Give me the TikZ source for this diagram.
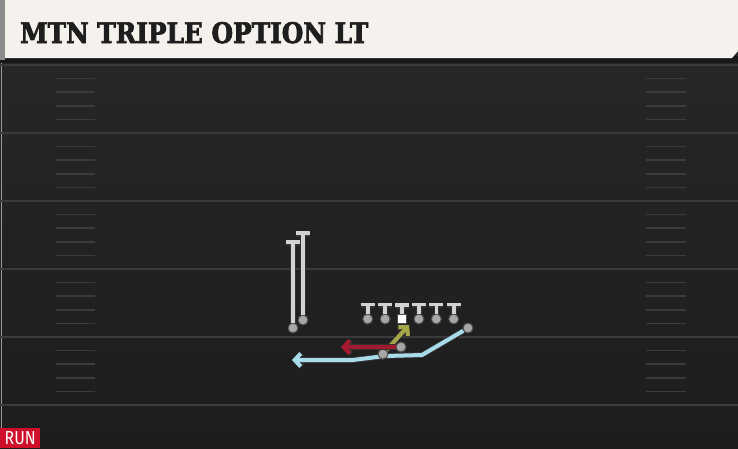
\documentclass[tikz,border=0pt]{standalone}
\usepackage{fontspec}
\usetikzlibrary{arrows.meta,positioning}
\newfontfamily\titlefont{DejaVu Serif Condensed Bold}[FakeBold=2.5]
\newfontfamily\runfont{Fira Sans}
\definecolor{fieldtop}{HTML}{282828}
\definecolor{fieldbot}{HTML}{1D1D1D}
\definecolor{fieldline}{HTML}{3B3B3B}
\definecolor{titlebg}{HTML}{F5F2EE}
\definecolor{titletext}{HTML}{1E1E1E}
\definecolor{runred}{HTML}{D0102B}
\definecolor{optred}{HTML}{A4192D}
\definecolor{optblue}{HTML}{A9DCEB}
\definecolor{optyellow}{HTML}{A8A64A}
\definecolor{playergray}{HTML}{A6A6A6}
\definecolor{blockgray}{HTML}{D2D2D2}

\begin{document}
\begin{tikzpicture}[x=1pt,y=-1pt,
  player/.style={circle, fill=playergray, draw=black!70, line width=1pt, inner sep=0pt, minimum size=10pt},
  snapper/.style={rectangle, fill=white, draw=black!70, line width=1pt, inner sep=0pt, minimum size=9pt},
  block/.style={draw=blockgray, line width=3.6pt, preaction={draw=black!80, line width=5.6pt}, -{Bar[width=14pt]}},
  option/.style={line width=4pt, preaction={draw=black!80, line width=5.8pt}, -{Straight Barb[length=6pt,width=13pt]}},
  hash/.style={draw=fieldline, line width=1.6pt},
]
\useasboundingbox (0,0) rectangle (738,448);
% field
\shade[top color=fieldtop, bottom color=fieldbot] (0,0) rectangle (738,448);
\draw[black!40, line width=1pt] (1.5,60) -- (1.5,448);
\foreach \k in {0,...,5}
  \draw[fieldline, line width=1.8pt] (0,{65+68*\k}) -- (738,{65+68*\k});
\foreach \k in {0,...,4}
  \foreach \h in {1,...,4} {
    \draw[hash] (56,{65+68*\k+13.6*\h}) -- (95,{65+68*\k+13.6*\h});
    \draw[hash] (646,{65+68*\k+13.6*\h}) -- (686,{65+68*\k+13.6*\h});
  }

% title bar
\fill[black!90] (0,56) rectangle (738,63);
\fill[black!45] (0,0) rectangle (5,60);
\fill[titlebg] (5,0) -- (738,0) -- (738,51) -- (732,58) -- (5,58) -- cycle;
\node[anchor=base west, inner sep=0pt, text=titletext] (title) at (20,43)
  {\resizebox{348pt}{21pt}{\titlefont MTN TRIPLE OPTION LT}};

% tag
\node[fill=runred, anchor=south west, minimum width=40pt, minimum height=20pt, inner sep=0pt, text=white] (tag) at (0,448)
  {\resizebox{31pt}{13pt}{\runfont RUN}};

% line
\node[snapper] (c) at (402,319) {};
\node[player, left=6.4pt of c] (lg) {};
\node[player, left=6.4pt of lg] (lt) {};
\node[player, right=6.4pt of c] (rg) {};
\node[player, right=6.4pt of rg] (rt) {};
\node[player, right=6.4pt of rt] (te) {};
\foreach \p in {lt,lg,c,rg,rt,te}
  \draw[block] (\p.north) -- ++(0,-11);

% receivers
\node[player] (wr) at (293,328) {};
\node[player] (sl) at (303,320) {};
\coordinate (wrend) at (293,240);
\coordinate (slend) at (303,231);
\draw[block] (wr.north) -- (wrend);
\draw[block] (sl.north) -- (slend);

% backfield
\node[player] (tb) at (468,328) {};
\node[player] (fb) at (383,354) {};
\node[player] (qb) at (401,347) {};
\coordinate (pitch1) at (422,355);
\coordinate (pitch2) at (385,356);
\coordinate (pitch3) at (353,360);
\coordinate (pitchend) at (292,360);
\coordinate (diveend) at (409,325);
\coordinate (keepend) at (341,347);
\draw[option, draw=optblue] (tb) -- (pitch1) -- (pitch2) -- (pitch3) -- (pitchend);
\node[player] at (fb) {};
\draw[option, draw=optyellow] (fb) -- (diveend);
\draw[option, draw=optred] (qb) -- (keepend);
\node[player] at (qb) {};
\end{tikzpicture}
\end{document}
